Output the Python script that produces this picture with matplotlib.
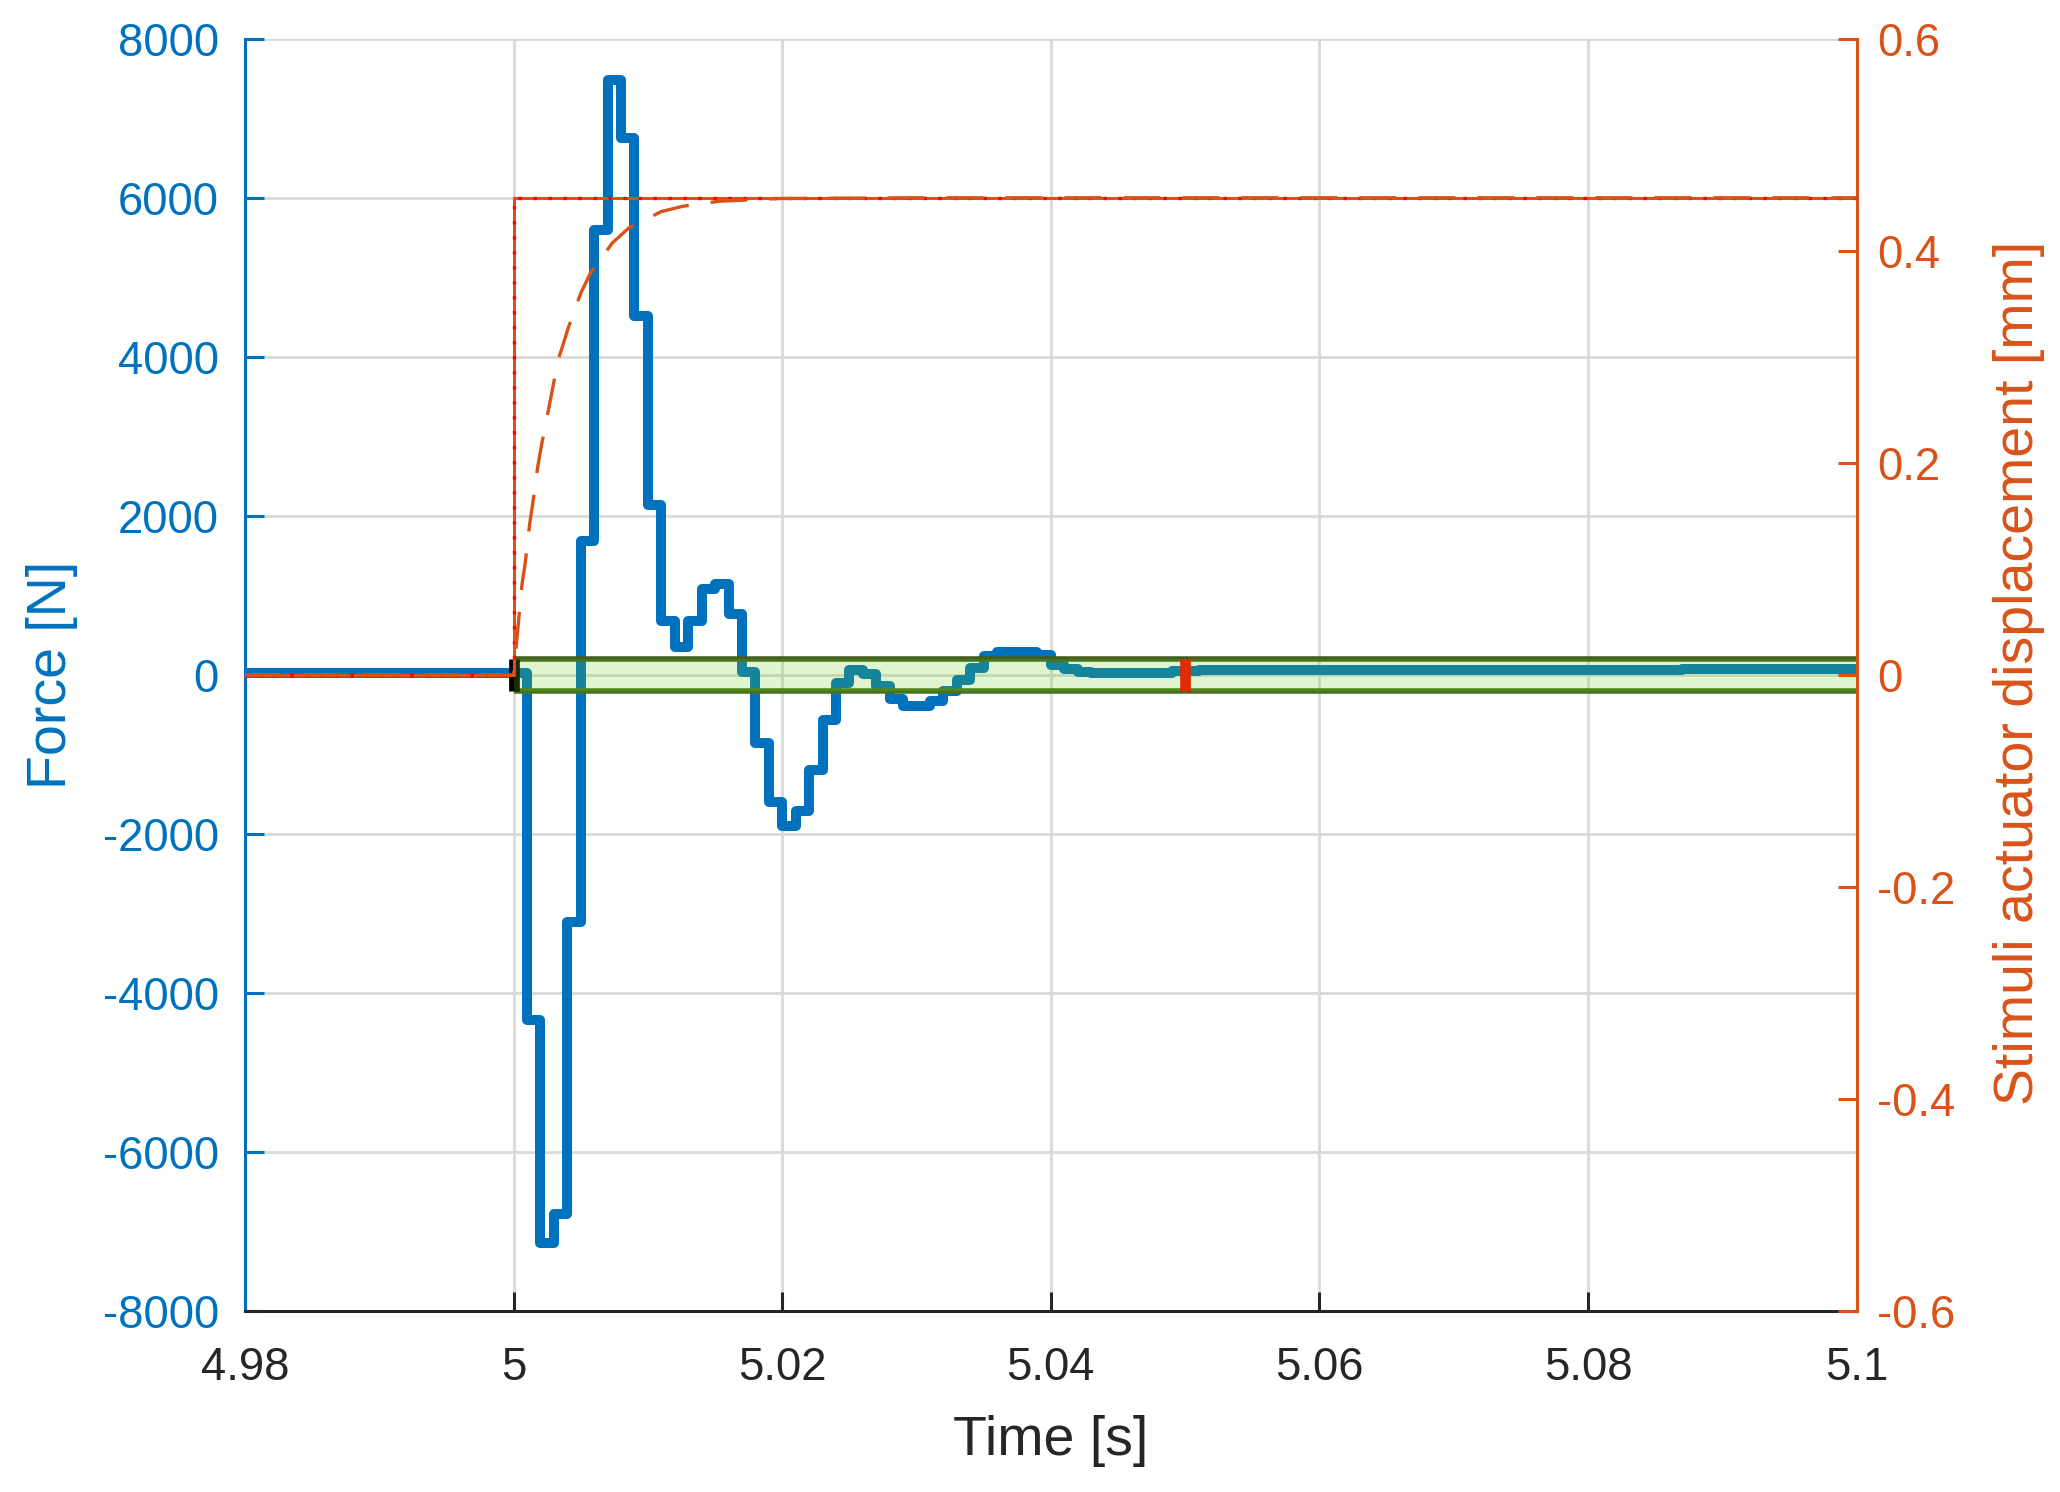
import matplotlib
matplotlib.use("Agg")
import matplotlib.pyplot as plt
from matplotlib.ticker import FixedLocator, FixedFormatter

plt.rcParams['font.family'] = ['Liberation Sans', 'DejaVu Sans']

# ---------------- data ----------------
T0 = 5.0  # s, stimulus instant
# force: sample-and-hold steps, start time of each step in ms relative to T0
force_step_ms = [-20, 0, 1, 2, 3, 4, 5, 6, 7, 8, 9, 10, 11, 12, 13, 14, 15, 16, 17,
                 18, 19, 20, 21, 22, 23, 24, 25, 26, 27, 28, 29, 30, 31, 32, 33, 34,
                 35, 36, 37, 38, 39, 40, 41, 42, 43, 49, 51, 84, 87, 100]
force_N = [20, 20, -4337, -7142, -6777, -3102, 1691, 5590, 7481, 6752, 4508, 2140,
           682, 356, 682, 1080, 1150, 773, 35, -860, -1595, -1904, -1715, -1191,
           -562, -96, 67, 10, -143, -298, -394, -394, -323, -205, -59, 88, 235, 293,
           293, 293, 256, 122, 80, 38, 30, 45, 60, 68, 78, 78]

# stimulus reference (step) in mm
stim_t = [4.98, 5.0, 5.0, 5.1]
stim_mm = [0.0, 0.0, 0.45, 0.45]

# actuator displacement response (dashed), ms relative to T0 and mm
resp_ms = [-20, 0, 0.37, 0.62, 0.87, 1.19, 1.44, 1.79, 2.11, 2.61, 2.93, 3.32, 3.57,
           4.06, 5.0, 5.72, 7.36, 8.59, 11.0, 12.6, 15.34, 17.0, 19.8, 30, 100]
resp_mm = [0.0, 0.0, 0.051, 0.085, 0.106, 0.142, 0.163, 0.196, 0.219, 0.251, 0.272,
           0.2975, 0.307, 0.327, 0.360, 0.379, 0.4075, 0.4217, 0.437, 0.442, 0.4468,
           0.4477, 0.4493, 0.45, 0.45]

# settling band (N) and markers (s)
band_t = [5.0, 5.1]
band_lo = [-200, -200]
band_hi = [200, 200]
settle_start_t = 5.0
settle_end_t = 5.05
marker_span = [-200, 200]

x_ticks = [4.98, 5.0, 5.02, 5.04, 5.06, 5.08, 5.1]
x_labels = ['4.98', '5', '5.02', '5.04', '5.06', '5.08', '5.1']
yl_ticks = [-8000, -6000, -4000, -2000, 0, 2000, 4000, 6000, 8000]
yl_labels = ['-8000', '-6000', '-4000', '-2000', '0', '2000', '4000', '6000', '8000']
yr_ticks = [-0.6, -0.4, -0.2, 0, 0.2, 0.4, 0.6]
yr_labels = ['-0.6', '-0.4', '-0.2', '0', '0.2', '0.4', '0.6']

# ---------------- style ----------------
BLUE = '#0072bd'
ORANGE = '#d95319'
DARK = '#262626'

fig = plt.figure(figsize=(10.3, 7.46), dpi=200)
ax = fig.add_axes([0.11893, 0.12111, 0.78238, 0.85295])
ax.set_xlim(4.98, 5.1)
ax.set_ylim(-8000, 8000)

t_force = [T0 + m / 1000.0 for m in force_step_ms]
ax.plot(t_force, force_N, drawstyle='steps-post', color=BLUE, lw=3.6, zorder=2)

# band
ax.plot(band_t, band_hi, color='#425e1e', lw=2.0, zorder=2.5, solid_capstyle='butt')
ax.plot(band_t, band_lo, color='#4a721e', lw=2.0, zorder=2.5, solid_capstyle='butt')
ax.plot([settle_start_t, settle_start_t], marker_span, color='black', lw=3.85,
        solid_capstyle='butt', zorder=3)
ax.plot([settle_end_t, settle_end_t], marker_span, color='#ff0000', lw=3.85,
        solid_capstyle='butt', zorder=3)
ax.fill_between(band_t, band_lo, band_hi, color=(107 / 255, 207 / 255, 31 / 255),
                alpha=0.21, lw=0, zorder=4)

ax.grid(True, color='#d9d9d9', lw=1.0)
ax.set_axisbelow(True)

ax.xaxis.set_major_locator(FixedLocator(x_ticks))
ax.xaxis.set_major_formatter(FixedFormatter(x_labels))
ax.yaxis.set_major_locator(FixedLocator(yl_ticks))
ax.yaxis.set_major_formatter(FixedFormatter(yl_labels))

ax.tick_params(axis='x', direction='in', length=6.8, width=1.1, colors=DARK,
               labelsize=16.4, pad=12.5, top=False)
ax.tick_params(axis='y', direction='in', length=6.8, width=1.1, colors=BLUE,
               labelsize=16.4, pad=9.4, right=False)
for s in ['top', 'right']:
    ax.spines[s].set_visible(False)
ax.spines['left'].set_color(BLUE)
ax.spines['bottom'].set_color(DARK)
for s in ['left', 'bottom']:
    ax.spines[s].set_linewidth(1.1)

# right axis
ax2 = ax.twinx()
ax2.set_ylim(-0.6, 0.6)
ax2.plot(stim_t, stim_mm, color=ORANGE, lw=1.1, zorder=2)
ax2.plot(stim_t, stim_mm, color='#ff0000', lw=1.2, ls=(0, (1.0, 3.5)),
         dash_capstyle='butt', zorder=3)
resp_t = [T0 + m / 1000.0 for m in resp_ms]
ax2.plot(resp_t, resp_mm, color=ORANGE, lw=1.2, ls=(0, (11.1, 6.6)),
         dash_capstyle='butt', zorder=4)

ax2.yaxis.set_major_locator(FixedLocator(yr_ticks))
ax2.yaxis.set_major_formatter(FixedFormatter(yr_labels))
ax2.tick_params(axis='y', direction='in', length=6.8, width=1.1, colors=ORANGE,
                labelsize=16.4, pad=7.3)
for s in ['top', 'left', 'bottom']:
    ax2.spines[s].set_visible(False)
ax2.spines['right'].set_color(ORANGE)
ax2.spines['right'].set_linewidth(1.1)

# labels
ax.set_xlabel('Time [s]', fontsize=20, color=DARK, va='baseline', ha='center')
ax.xaxis.set_label_coords(0.5099, 0.0248, transform=fig.transFigure)
ax.set_ylabel('Force [N]', fontsize=20, color=BLUE, rotation=90,
              rotation_mode='anchor', ha='center', va='baseline')
ax.yaxis.set_label_coords(0.0319, 0.5474, transform=fig.transFigure)
ax2.set_ylabel('Stimuli actuator displacement [mm]', fontsize=20, color=ORANGE,
               rotation=90, rotation_mode='anchor', ha='center', va='baseline')
ax2.yaxis.set_label_coords(0.98704, 0.5490, transform=fig.transFigure)

fig.savefig('out.png', dpi=200)
